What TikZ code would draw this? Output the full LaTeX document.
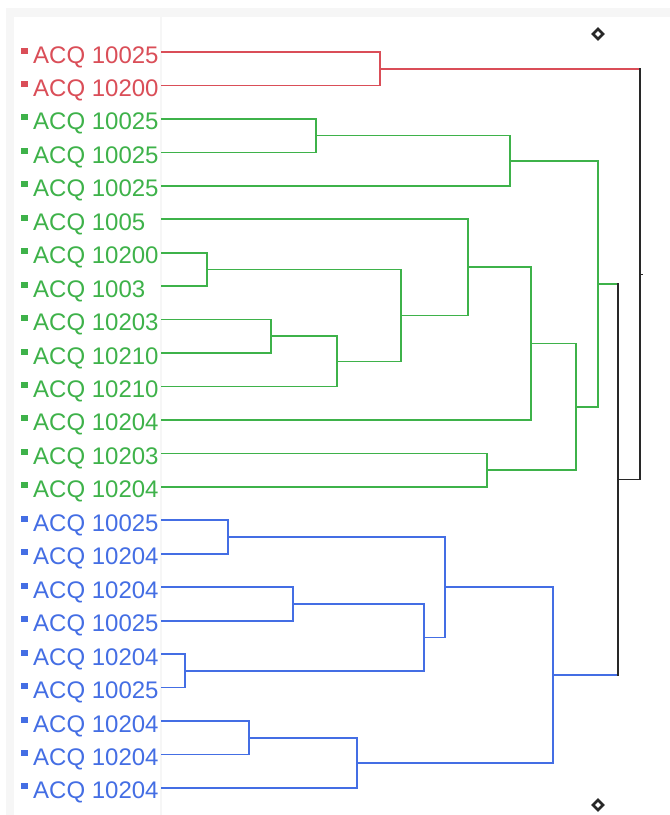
\documentclass[tikz,border=0pt]{standalone}
\usepackage{fontspec}
\setmainfont{Liberation Sans}
\usepackage{tikz}
\usetikzlibrary{calc,shapes.geometric}

\definecolor{acqred}{RGB}{218,78,88}
\definecolor{acqgreen}{RGB}{62,178,74}
\definecolor{acqblue}{RGB}{68,110,228}
\definecolor{acqblack}{RGB}{40,40,40}
\definecolor{panelgray}{RGB}{246,246,246}

\begin{document}
\begin{tikzpicture}[x=1pt,y=-1pt,
		link/.style={line width=1.7pt,line cap=rect},
		leafmark/.style={inner sep=0pt,minimum width=7pt,minimum height=6pt},
		leaftext/.style={anchor=base west,inner sep=0pt,font=\fontsize{24}{28}\selectfont},
		endmark/.style={diamond,draw=acqblack,line width=2.6pt,inner sep=0pt,minimum size=11pt}]
	\useasboundingbox (0,0) rectangle (670,815);
	
	% Panels
	\fill[panelgray] (6,8) rectangle (670,815);
	\fill[white] (14,17) rectangle (160,815);
	\fill[white] (162,17) rectangle (670,815);
	
	% Leaves: marker, label and start of branch
	\foreach \lab/\col [count=\i from 0] in {10025/acqred,10200/acqred,
		10025/acqgreen,10025/acqgreen,10025/acqgreen,1005/acqgreen,10200/acqgreen,
		1003/acqgreen,10203/acqgreen,10210/acqgreen,10210/acqgreen,10204/acqgreen,
		10203/acqgreen,10204/acqgreen,
		10025/acqblue,10204/acqblue,10204/acqblue,10025/acqblue,10204/acqblue,
		10025/acqblue,10204/acqblue,10204/acqblue,10204/acqblue}{
		\pgfmathsetmacro{\yy}{52+33.45*\i}
		\coordinate (l\i) at (162,\yy);
		\node[leafmark,fill=\col] (m\i) at (24.5,\yy-1.5) {};
		\node[leaftext,text=\col] (t\i) at (33,\yy+11) {ACQ \lab};
	}
	
	% Joins: name / height / children / colours (child a, child b, bar)
	\foreach \nm/\xx/\a/\b/\ca/\cb/\cc in {
		r1/380/l0/l1/acqred/acqred/acqred,
		g1/316/l2/l3/acqgreen/acqgreen/acqgreen,
		g2/510/g1/l4/acqgreen/acqgreen/acqgreen,
		g3/207/l6/l7/acqgreen/acqgreen/acqgreen,
		g4/271/l8/l9/acqgreen/acqgreen/acqgreen,
		g5/337/g4/l10/acqgreen/acqgreen/acqgreen,
		g6/401/g3/g5/acqgreen/acqgreen/acqgreen,
		g7/468/l5/g6/acqgreen/acqgreen/acqgreen,
		g8/531/g7/l11/acqgreen/acqgreen/acqgreen,
		g9/487/l12/l13/acqgreen/acqgreen/acqgreen,
		g10/576/g8/g9/acqgreen/acqgreen/acqgreen,
		g11/598/g2/g10/acqgreen/acqgreen/acqgreen,
		b1/228/l14/l15/acqblue/acqblue/acqblue,
		b2/293/l16/l17/acqblue/acqblue/acqblue,
		b3/185/l18/l19/acqblue/acqblue/acqblue,
		b4/424/b2/b3/acqblue/acqblue/acqblue,
		b5/445/b1/b4/acqblue/acqblue/acqblue,
		b6/249/l20/l21/acqblue/acqblue/acqblue,
		b7/357/b6/l22/acqblue/acqblue/acqblue,
		b8/553/b5/b7/acqblue/acqblue/acqblue,
		n1/618/g11/b8/acqgreen/acqblue/acqblack,
		root/640/r1/n1/acqred/acqblack/acqblack}{
		\path let \p1=($(\a)!0.5!(\b)$) in coordinate (\nm) at (\xx pt,\y1);
		\draw[link,draw=\ca] (\a) -- (\a -| \nm);
		\draw[link,draw=\cb] (\b) -- (\b -| \nm);
		\draw[link,draw=\cc] (\a -| \nm) -- (\b -| \nm);
	}
	\draw[line width=1pt,acqblack] (root) -- ++(3,0);
	
	% End markers of the axis
	\node[endmark] (top) at (598,34) {};
	\node[endmark] (bottom) at (598,805) {};
	
\end{tikzpicture}
\end{document}
